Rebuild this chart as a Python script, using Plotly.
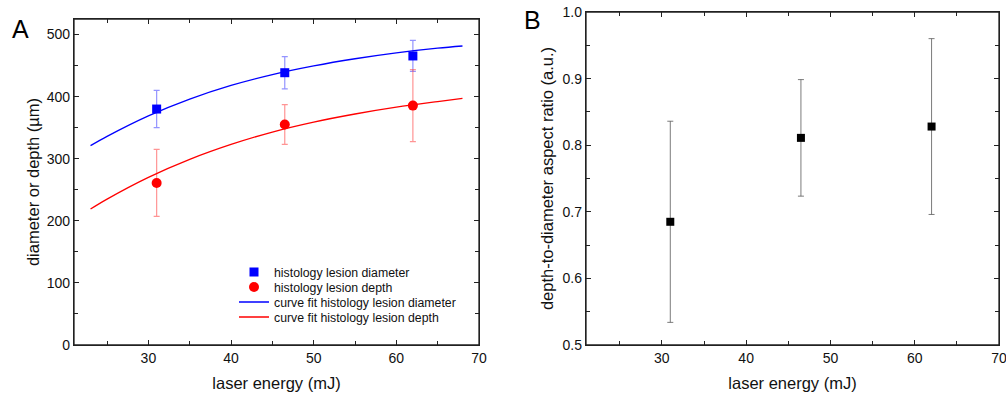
import plotly.graph_objects as go

# ---- data ----
energy = [31, 46.5, 62]
diam = [380, 438.5, 465.5]
diam_err = [30, 26, 25]
depth = [261, 355, 385.5]
depth_err = [54, 32, 58]

fit_x = [23, 25, 30, 35, 40, 45, 50, 55, 60, 65, 68]
fit_diam = [321, 336, 369, 396, 418, 435.5, 449.5, 461, 470.5, 478, 481.5]
fit_depth = [219, 235, 270, 299, 323, 343, 359, 372, 383, 392, 397]

ratio = [0.685, 0.811, 0.828]
ratio_err = [0.151, 0.0875, 0.132]

xticks = [30, 40, 50, 60, 70]

FONT = "Liberation Sans, Arial, sans-serif"

W, H = 1006, 395


def xp(px):
    return px / W


def yp(py):
    return 1 - py / H


fig = go.Figure()

fig.add_trace(go.Scatter(
    x=energy, y=diam, mode="markers", name="histology lesion diameter",
    marker=dict(symbol="square", size=9, color="#0000ff"),
    error_y=dict(type="data", array=diam_err, color="rgba(60,60,255,0.55)", thickness=1.2, width=3),
    xaxis="x", yaxis="y", legend="legend"))
fig.add_trace(go.Scatter(
    x=energy, y=depth, mode="markers", name="histology lesion depth",
    marker=dict(symbol="circle", size=10, color="#ff0000"),
    error_y=dict(type="data", array=depth_err, color="rgba(255,60,60,0.55)", thickness=1.2, width=3),
    xaxis="x", yaxis="y", legend="legend2"))
fig.add_trace(go.Scatter(
    x=fit_x, y=fit_diam, mode="lines", name="curve fit histology lesion diameter",
    line=dict(color="#0000ff", width=1.3, shape="spline"), xaxis="x", yaxis="y", legend="legend3"))
fig.add_trace(go.Scatter(
    x=fit_x, y=fit_depth, mode="lines", name="curve fit histology lesion depth",
    line=dict(color="#ff0000", width=1.3, shape="spline"), xaxis="x", yaxis="y", legend="legend4"))

fig.add_trace(go.Scatter(
    x=energy, y=ratio, mode="markers", showlegend=False,
    marker=dict(symbol="square", size=8, color="#000000"),
    error_y=dict(type="data", array=ratio_err, color="rgba(90,90,90,0.8)", thickness=1, width=3),
    xaxis="x2", yaxis="y2"))

axis_common = dict(
    showgrid=False, zeroline=False, showline=True, linecolor="#222", linewidth=1.3,
    mirror="ticks", ticks="inside", ticklen=5, tickwidth=1.3, tickcolor="#222",
    tickfont=dict(family=FONT, size=14, color="#111"), ticklabeloverflow="allow",
)
minor_common = dict(ticks="inside", ticklen=4, tickcolor="#222", tickwidth=1.3)
title_font = dict(size=16.5, family=FONT, color="#111")


def leg(ypx):
    return dict(x=xp(234), y=yp(ypx), xanchor="left", yanchor="middle",
                bgcolor="rgba(0,0,0,0)", font=dict(family=FONT, size=12.3, color="#111"),
                itemwidth=30)


fig.update_layout(
    width=W, height=H,
    margin=dict(l=0, r=0, t=0, b=0, autoexpand=False),
    paper_bgcolor="white", plot_bgcolor="white",
    font=dict(family=FONT, color="#111"),
    xaxis=dict(domain=[xp(74), xp(479)], range=[21, 70], tickvals=xticks,
               minor=dict(dtick=5, **minor_common),
               title=dict(text="laser energy (mJ)", font=title_font, standoff=12),
               anchor="y", **axis_common),
    yaxis=dict(domain=[yp(345), yp(19)], range=[0, 525], dtick=100, tick0=0,
               minor=dict(dtick=50, **minor_common),
               title=dict(text="diameter or depth (µm)", font=title_font, standoff=2),
               anchor="x", **axis_common),
    xaxis2=dict(domain=[xp(586), xp(999)], range=[21, 70], tickvals=xticks,
                minor=dict(dtick=5, **minor_common),
                title=dict(text="laser energy (mJ)", font=title_font, standoff=12),
                anchor="y2", **axis_common),
    yaxis2=dict(domain=[yp(345), yp(12)], range=[0.5, 1.0], dtick=0.1, tick0=0.5,
                tickformat=".1f",
                minor=dict(dtick=0.05, **minor_common),
                title=dict(text="depth-to-diameter aspect ratio (a.u.)", font=title_font, standoff=4),
                anchor="x2", **axis_common),
    legend=leg(272), legend2=leg(287), legend3=leg(302), legend4=leg(317),
    showlegend=True,
)

# plot frames
for xr, yr in (("x domain", "y domain"), ("x2 domain", "y2 domain")):
    fig.add_shape(type="rect", xref=xr, yref=yr, x0=0, x1=1, y0=0, y1=1,
                  line=dict(color="#222", width=1.3), fillcolor="rgba(0,0,0,0)", layer="above")

fig.add_annotation(text="A", x=xp(20.5), y=yp(29), xref="paper", yref="paper",
                   xanchor="center", yanchor="middle",
                   showarrow=False, font=dict(family=FONT, size=25, color="#000"))
fig.add_annotation(text="B", x=xp(532), y=yp(20), xref="paper", yref="paper",
                   xanchor="center", yanchor="middle",
                   showarrow=False, font=dict(family=FONT, size=25, color="#000"))

fig.write_html(
    "out.html",
    config={"displayModeBar": False},
    post_script="document.body.style.margin='0px';document.body.style.overflow='hidden';",
)
